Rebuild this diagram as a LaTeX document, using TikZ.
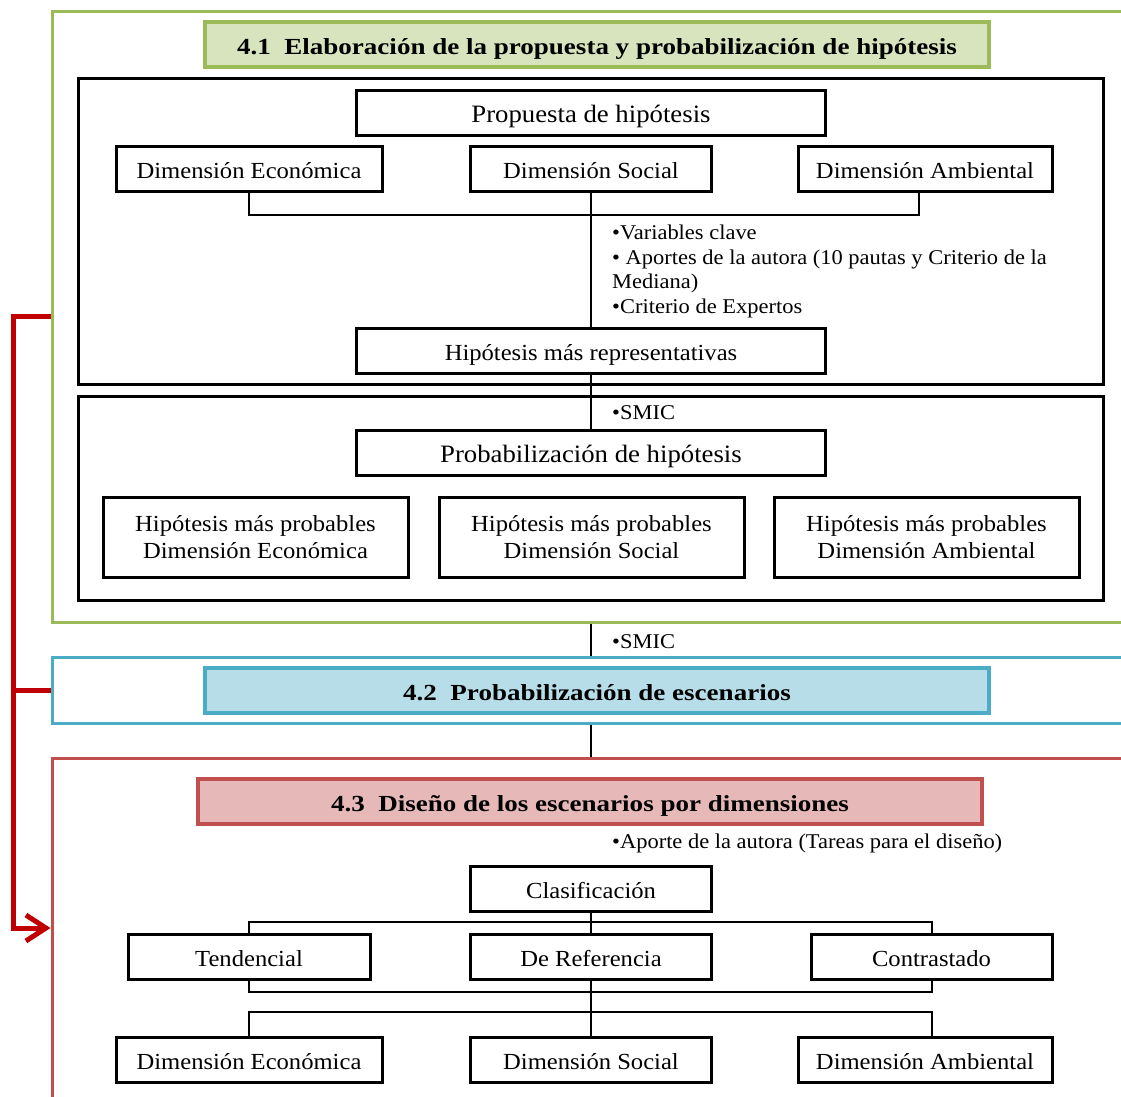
\documentclass[tikz,border=0pt]{standalone}
\usepackage{fontspec}
\setmainfont{Liberation Serif}[FakeStretch=1.07, BoldFeatures={FakeStretch=1.175}]
\usepackage{tikz}
\usetikzlibrary{positioning, arrows.meta}
\definecolor{stageGreen}{RGB}{155, 187, 89}
\definecolor{stageGreenFill}{RGB}{215, 228, 189}
\definecolor{stageBlue}{RGB}{75, 172, 198}
\definecolor{stageBlueFill}{RGB}{183, 222, 232}
\definecolor{stageRed}{RGB}{192, 80, 77}
\definecolor{stageRedFill}{RGB}{230, 185, 184}
\definecolor{linkRed}{RGB}{192, 0, 0}

\begin{document}
\begin{tikzpicture}[
    x=1pt, y=-1pt,
    box/.style={draw, line width=3pt, minimum height=45pt, inner sep=2pt,
                text height=19.6pt, text depth=0pt,
                font=\fontsize{23}{27}\selectfont},
    headbox/.style={box, minimum width=469pt, font=\fontsize{25}{29}\selectfont},
    twobox/.style={draw, line width=3pt, minimum width=305pt, minimum height=80pt,
                   align=center, font=\fontsize{23}{27}\selectfont},
    frame/.style={draw, line width=3pt, minimum width=1076pt, inner sep=0pt},
    group/.style={draw, line width=3pt, minimum width=1025pt, inner sep=0pt},
    title/.style={line width=4pt, minimum width=784pt, minimum height=45pt,
                  text height=20pt, text depth=0pt,
                  font=\fontsize{23}{27}\selectfont\bfseries},
    note/.style={inner sep=0pt, align=left, anchor=west,
                 font=\fontsize{21}{24.5}\selectfont},
    conn/.style={line width=2pt},
    link/.style={draw=linkRed, line width=5pt}
]
    \useasboundingbox (0,0) rectangle (1121,1096);
    \clip (0,0) rectangle (1121,1096);

    % stage frames
    \node[frame, draw=stageGreen, minimum height=611pt] (f41) at (590,316.5) {};
    \node[frame, draw=stageBlue, minimum height=66pt] (f42) at (590,690) {};
    \node[frame, draw=stageRed, minimum height=340pt] (f43) at (590,928) {};

    \node[title, draw=stageGreen, fill=stageGreenFill] (t41) at (597,44.5)
        {4.1\ \ Elaboración de la propuesta y probabilización de hipótesis};
    \node[title, draw=stageBlue, fill=stageBlueFill] (t42) at (597,690.5)
        {4.2\ \ Probabilización de escenarios};
    \node[title, draw=stageRed, fill=stageRedFill] (t43) at (590,801)
        {4.3\ \ Diseño de los escenarios por dimensiones};

    % 4.1 groups
    \node[group, minimum height=306pt] (g1) at (590.5,231) {};
    \node[group, minimum height=204pt] (g2) at (590.5,498) {};

    \node[headbox] (prop) at (591,112.5) {Propuesta de hipótesis};
    \node[box, minimum width=266pt] (econ1) at (249,169) {Dimensión Económica};
    \node[box, minimum width=241pt] (soc1) at (591,169) {Dimensión Social};
    \node[box, minimum width=254pt] (amb1) at (925,169) {Dimensión Ambiental};
    \node[box, minimum width=469pt] (hrep) at (591,350.5) {Hipótesis más representativas};

    \node[note, anchor=north west] (crit) at (612,225) {•Variables clave\\
        • Aportes de la autora (10 pautas y Criterio de la\\
        Mediana)\\
        •Criterio de Expertos};

    \node[headbox] (probh) at (591,453) {Probabilización de hipótesis};
    \node[twobox] (pecon) at (255.5,537) {Hipótesis más probables\\Dimensión Económica};
    \node[twobox] (psoc) at (591.5,537) {Hipótesis más probables\\Dimensión Social};
    \node[twobox] (pamb) at (926.5,537) {Hipótesis más probables\\Dimensión Ambiental};

    \node[note] (smic1) at (612,413) {•SMIC};
    \node[note] (smic2) at (612,642) {•SMIC};

    % 4.3 content
    \node[note] (tareas) at (612,843.5) {•Aporte de la autora (Tareas para el diseño)};
    \node[box, minimum width=241pt] (clasif) at (591,888.5) {Clasificación};
    \node[box, minimum width=242pt] (tend) at (249,956.5) {Tendencial};
    \node[box, minimum width=241pt] (deref) at (591,956.5) {De Referencia};
    \node[box, minimum width=241pt] (contr) at (931.5,956.5) {Contrastado};
    \node[box, minimum width=266pt] (econ2) at (249,1059.5) {Dimensión Económica};
    \node[box, minimum width=241pt] (soc2) at (591,1059.5) {Dimensión Social};
    \node[box, minimum width=254pt] (amb2) at (925,1059.5) {Dimensión Ambiental};

    % connectors
    \draw[conn] (econ1.south) -- ++(0,22) -| ([xshift=-6pt]amb1.south);
    \draw[conn] (soc1.south) -- (hrep.north);
    \draw[conn] (hrep.south) -- (probh.north);
    \draw[conn] (f41.south -| probh) -- (f42.north -| probh);
    \draw[conn] (f42.south -| clasif) -- (f43.north -| clasif);
    \draw[conn] (tend.north) -- ++(0,-11) -| (contr.north);
    \draw[conn] (clasif.south) -- (deref.north);
    \draw[conn] (tend.south) -- ++(0,11) -| (contr.south);
    \draw[conn] (deref.south) -- (soc2.north);
    \draw[conn] (econ2.north) -- ++(0,-24) -| ([xshift=6.5pt]amb2.north);

    % feedback link
    \draw[link, -{Straight Barb[length=20pt, width=26pt]}]
        (f41.west) -- ++(-37,0) |- (f43.west);
    \draw[link] (f42.west) -- ++(-37,0);
\end{tikzpicture}
\end{document}
